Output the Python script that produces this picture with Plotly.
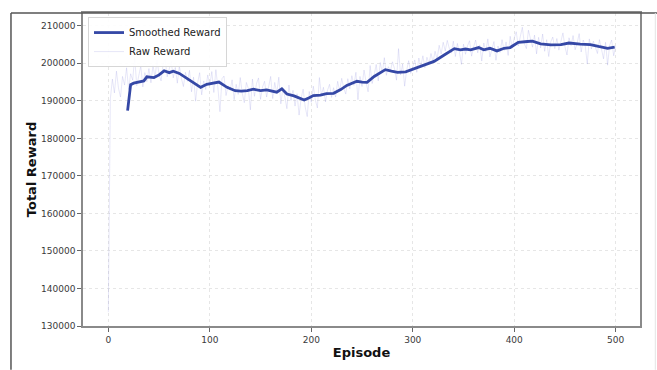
import plotly.graph_objects as go

# ---- data (rewards in thousands, converted below) ----
raw_episodes = list(range(0, 501, 2))
raw_reward_k = [
    133.7,
    190.5, 195.8, 192.1, 197.9, 193.4, 191.0, 196.5, 194.2, 198.8,
    193.0, 197.2, 195.5, 201.6, 194.0, 196.8, 199.3, 193.7, 197.5, 195.1, 198.6,
    194.8, 199.5, 196.2, 200.9, 197.0, 195.3, 199.8, 201.1, 196.4, 198.7,
    200.5, 196.1, 198.9, 194.7, 199.2, 196.0, 193.8, 197.6, 195.2, 198.1,
    192.4, 196.3, 189.9, 194.8, 197.5, 191.6, 195.3, 193.0, 196.9, 194.1,
    197.8, 192.2, 198.3, 193.5, 187.1, 195.9, 196.6, 191.4, 194.0, 192.8,
    195.6, 190.3, 194.4, 191.7, 196.2, 192.0, 189.5, 194.9, 193.3, 187.6,
    195.8, 191.2, 194.6, 196.1, 190.4, 193.7, 195.2, 191.0, 194.3, 196.5,
    190.6, 194.9, 192.1, 196.3, 189.2, 193.4, 191.0, 187.9, 194.2, 190.1,
    192.8, 188.6, 191.9, 186.2, 190.7, 193.1, 188.4, 185.8, 192.5, 189.6,
    193.9, 190.2, 188.1, 196.2, 191.5, 193.6, 189.7, 192.8, 194.4, 190.9,
    193.5, 191.0, 195.2, 192.6, 196.0, 193.4, 191.8, 195.9, 193.2, 196.7,
    194.1, 197.6, 190.3, 196.5, 193.8, 198.2, 195.0, 192.4, 199.4, 194.6,
    196.9, 199.7, 195.3, 200.2, 197.4, 201.5, 196.8, 199.1, 197.9, 200.4,
    198.6, 195.5, 203.9, 196.9, 199.8, 193.9, 198.2, 200.7, 197.3, 199.5,
    200.9, 197.6, 201.4, 199.2, 202.0, 198.8, 201.6, 199.9, 202.6, 200.3,
    203.2, 201.1, 204.8, 202.5, 205.6, 203.3, 206.1, 204.0, 202.7, 205.9,
    201.8, 205.3, 203.0, 199.7, 205.1, 202.4, 204.7, 206.0, 201.9, 204.4,
    206.2, 202.8, 204.9, 200.6, 205.4, 203.1, 206.5, 201.7, 204.2, 205.8,
    200.8, 204.6, 202.9, 206.3, 203.4, 205.7, 202.1, 207.2, 204.0, 206.8,
    208.4, 204.6, 207.1, 209.6, 205.2, 203.9, 208.8, 206.1, 204.3, 207.5,
    202.5, 206.9, 204.1, 207.8, 203.2, 206.3, 201.8, 205.7, 207.0, 203.9,
    206.6, 203.5, 205.9, 208.1, 204.4, 202.2, 206.8, 204.7, 207.4, 203.6,
    205.3, 207.9, 203.0, 206.2, 204.6, 199.8, 206.5, 203.8, 205.9, 204.2,
    202.6, 206.3, 203.4, 201.2, 205.6, 199.5, 204.8, 206.2, 202.0, 204.6,
]

smooth_episodes = [
    19, 22, 25, 30, 35, 38, 45, 50, 55, 60,
    64, 70, 78, 85, 91, 97, 103, 109, 117, 125,
    131, 137, 143, 150, 156, 162, 166, 171, 176, 183,
    188, 193, 198, 202, 209, 215, 222, 229, 235, 240,
    245, 250, 255, 262, 268, 273, 279, 285, 293, 301,
    311, 321, 331, 336, 341, 347, 352, 357, 365, 370,
    376, 383, 390, 396, 404, 413, 418, 426, 436, 446,
    454, 465, 475, 483, 492, 499,
]
smooth_reward_k = [
    187.4, 194.3, 194.7, 195.0, 195.3, 196.4, 196.2, 196.9, 198.0, 197.5,
    197.9, 197.3, 195.9, 194.6, 193.6, 194.4, 194.7, 195.0, 193.6, 192.7,
    192.6, 192.7, 193.1, 192.7, 192.9, 192.6, 192.3, 193.2, 191.8, 191.3,
    190.8, 190.2, 190.8, 191.4, 191.5, 191.9, 192.0, 193.0, 194.1, 194.6,
    195.2, 195.0, 194.9, 196.5, 197.5, 198.3, 197.9, 197.6, 197.7, 198.5,
    199.6, 200.5, 202.2, 203.0, 203.9, 203.6, 203.8, 203.6, 204.2, 203.6,
    204.0, 203.3, 204.0, 204.2, 205.6, 205.8, 205.9, 205.2, 204.9, 205.0,
    205.4, 205.1, 205.0, 204.5, 204.0, 204.3,
]

x_ticks = [0, 100, 200, 300, 400, 500]
y_ticks = [130000, 140000, 150000, 160000, 170000, 180000, 190000, 200000, 210000]

raw_reward = [v * 1000 for v in raw_reward_k]
smooth_reward = [v * 1000 for v in smooth_reward_k]

FONT = "DejaVu Sans"

fig = go.Figure()
fig.add_trace(go.Scatter(
    x=raw_episodes, y=raw_reward, mode="lines", name="Raw Reward",
    line=dict(color="rgba(120,120,215,0.18)", width=1),
))
fig.add_trace(go.Scatter(
    x=smooth_episodes, y=smooth_reward, mode="lines", name="Smoothed Reward",
    line=dict(color="#3548a6", width=2.8),
))

axis_common = dict(
    showline=True, linecolor="#8a8a8a", linewidth=1.5, mirror=True,
    ticks="outside", ticklen=4, tickcolor="#666", tickwidth=1,
    showgrid=True, gridcolor="#e6e6e6", griddash="dot", gridwidth=1,
    zeroline=False,
    tickfont=dict(family=FONT, size=9, color="#3a3a3a"),
)

fig.update_layout(
    width=657, height=370,
    margin=dict(l=83, r=17, t=11, b=44),
    paper_bgcolor="white", plot_bgcolor="white",
    font=dict(family=FONT),
    showlegend=True,
    legend=dict(
        x=0.009, y=0.987, xanchor="left", yanchor="top",
        bgcolor="rgba(255,255,255,0.9)", bordercolor="#d6d6d6", borderwidth=1,
        font=dict(family=FONT, size=10, color="#222"),
        traceorder="reversed", tracegroupgap=0, itemwidth=30,
    ),
    xaxis=dict(
        range=[-24.95, 523.95], tickvals=x_ticks,
        title=dict(text="<b>Episode</b>", font=dict(family=FONT, size=13, color="#111"), standoff=4),
        **axis_common,
    ),
    yaxis=dict(
        range=[130000, 213400], tickvals=y_ticks, tickformat="d",
        title=dict(text="<b>Total Reward</b>", font=dict(family=FONT, size=13, color="#111"), standoff=2),
        **axis_common,
    ),
    shapes=[
        dict(type="line", xref="paper", yref="paper", x0=-0.1293, x1=1.0305, y0=1.0, y1=1.0,
             line=dict(color="#555", width=1.5)),
        dict(type="line", xref="paper", yref="paper", x0=-0.1293, x1=-0.1293, y0=-0.14, y1=1.0,
             line=dict(color="#555", width=1.5)),
        dict(type="line", xref="paper", yref="paper", x0=1.0275, x1=1.0275, y0=-0.14, y1=1.0,
             line=dict(color="#e4e4e4", width=1)),
    ],
)

fig.write_html("out.html")
